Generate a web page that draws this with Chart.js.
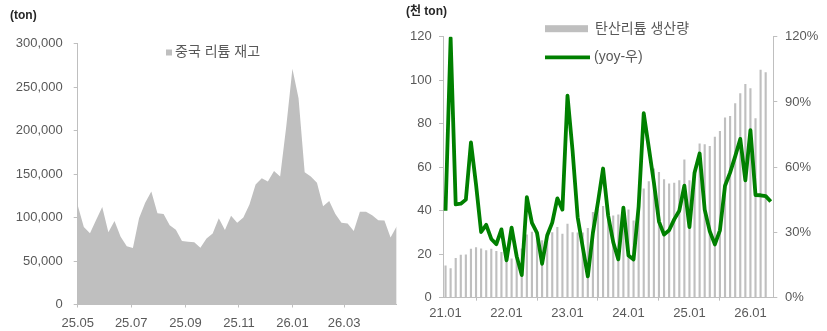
<!DOCTYPE html>
<html>
<head>
<meta charset="utf-8">
<script src="https://cdn.jsdelivr.net/npm/chart.js@4.4.1/dist/chart.umd.min.js"></script>
<style>
  html, body { margin: 0; padding: 0; background: #fff; }
  #wrap { position: relative; width: 827px; height: 331px; overflow: hidden;
          font-family: "Liberation Sans", "Noto Sans CJK KR", sans-serif; }
  .box { position: absolute; top: 0; height: 331px; }
  #boxL { left: 0; width: 410px; }
  #boxR { left: 400px; width: 427px; }
  .unit { position: absolute; font-size: 12px; line-height: 14px; font-weight: bold;
          color: #262626; white-space: nowrap; }
</style>
</head>
<body>
<div id="wrap">
  <div class="box" id="boxL"><canvas id="invChart" width="410" height="331"></canvas></div>
  <div class="box" id="boxR"><canvas id="prodChart" width="427" height="331"></canvas></div>
  <div class="unit" style="left:10px;top:8px">(ton)</div>
  <div class="unit" style="left:406px;top:4px">(천 ton)</div>
</div>
<script>
// ---- China lithium inventory (weekly, tons) ----
const invDates = [
  '25.05.01','25.05.08','25.05.15','25.05.22','25.05.29',
  '25.06.05','25.06.12','25.06.19','25.06.26',
  '25.07.03','25.07.10','25.07.17','25.07.24','25.07.31',
  '25.08.07','25.08.14','25.08.21','25.08.28',
  '25.09.04','25.09.11','25.09.18','25.09.25',
  '25.10.02','25.10.09','25.10.16','25.10.23','25.10.30',
  '25.11.06','25.11.13','25.11.20','25.11.27',
  '25.12.04','25.12.11','25.12.18','25.12.25',
  '26.01.01','26.01.08','26.01.15','26.01.22','26.01.29',
  '26.02.05','26.02.12','26.02.19','26.02.26',
  '26.03.05','26.03.12','26.03.19','26.03.26',
  '26.04.02','26.04.09','26.04.16','26.04.23','26.04.30'
];
const invTons = [
  114000, 89000, 82000, 97000, 112000, 83000, 96000, 78000, 67000, 65000,
  99000, 117000, 130000, 105000, 104000, 91000, 86000, 73000, 72000, 71500,
  65300, 76000, 81500, 99000, 85600, 102000, 94000, 100000, 115000, 138000,
  145000, 141500, 153500, 147000, 205000, 271000, 237000, 152000, 147000, 140000,
  113000, 119000, 104000, 94000, 93000, 84500, 106500, 106500, 102500, 96700,
  96500, 77000, 90000
];
const invTickMonths = ['25.05', '25.07', '25.09', '25.11', '26.01', '26.03'];

// ---- Lithium carbonate output (thousand tons) and YoY (%) ----
const prodMonths = [
  '21.01','21.02','21.03','21.04','21.05','21.06','21.07','21.08','21.09','21.10','21.11','21.12',
  '22.01','22.02','22.03','22.04','22.05','22.06','22.07','22.08','22.09','22.10','22.11','22.12',
  '23.01','23.02','23.03','23.04','23.05','23.06','23.07','23.08','23.09','23.10','23.11','23.12',
  '24.01','24.02','24.03','24.04','24.05','24.06','24.07','24.08','24.09','24.10','24.11','24.12',
  '25.01','25.02','25.03','25.04','25.05','25.06','25.07','25.08','25.09','25.10','25.11','25.12',
  '26.01','26.02','26.03','26.04','26.05'
];
const li2co3Output = [
  14.8, 13.5, 18.3, 19.7, 19.9, 22.5, 23.2, 22.6, 21.8, 22.5, 21.5, 21,
  18.3, 18, 20, 22.6, 29.1, 30.3, 30.5, 26.4, 29.1, 30.1, 32.5, 29.4,
  34, 30.1, 30, 30, 32, 39.4, 40.9, 42.2, 37.8, 37.8, 38.2, 41,
  40.6, 35.5, 44, 50.2, 53.5, 59.4, 57.8, 54.5, 52.5, 52.8, 54, 63.5,
  54, 55, 70.9, 70.5, 69.8, 74, 76.6, 82.8, 83.5, 89.4, 94, 98.3,
  96.3, 82.5, 104.8, 103.7
];
const outputYoY = [
  40, 119.4, 42.9, 43.2, 45.1, 71.4, 52, 30.2, 33.5, 27, 24.6, 31.4,
  17.2, 32.2, 19, 10.4, 46.2, 34.4, 29.8, 15.6, 28.6, 34.5, 45.7, 40.5,
  92.9, 67.5, 37, 23.2, 9.8, 29.8, 44, 59.4, 37.8, 25.5, 17.6, 41.4,
  19.4, 17.6, 42, 84.8, 69, 53, 35, 29, 31, 36, 40, 51.5,
  32.5, 57.5, 66.3, 40.5, 30.5, 24.5, 31, 51.5, 57.5, 65, 73, 54,
  77, 47.2, 47.1, 46.7, 44.2
];

Chart.defaults.font.family = '"Liberation Sans", "Noto Sans CJK KR", sans-serif';
Chart.defaults.font.size = 13;
Chart.defaults.color = '#595959';

const AXIS = '#bfbfbf';
const GRAY = '#bfbfbf';
const GREEN = '#008000';

// day number for 'YY.MM' or 'YY.MM.DD'
function dayOf(s) {
  const p = s.split('.').map(Number);
  return Date.UTC(2000 + p[0], p[1] - 1, p[2] || 1) / 86400000;
}
const day0 = dayOf(invDates[0]);

// Small legend drawn inside the plot, entries taken from the datasets
const legendBoxes = {
  id: 'legendBoxes',
  afterDatasetsDraw(chart, args, opts) {
    const ctx = chart.ctx;
    ctx.save();
    ctx.font = opts.font;
    ctx.textBaseline = 'middle';
    opts.items.forEach(it => {
      const ds = chart.data.datasets[it.dataset];
      if (it.kind === 'line') {
        ctx.strokeStyle = ds.borderColor;
        ctx.lineWidth = ds.borderWidth;
        ctx.beginPath();
        ctx.moveTo(it.x, it.y);
        ctx.lineTo(it.x + it.w, it.y);
        ctx.stroke();
      } else {
        ctx.fillStyle = ds.backgroundColor;
        ctx.fillRect(it.x, it.y - it.h / 2, it.w, it.h);
      }
      ctx.fillStyle = opts.color;
      ctx.fillText(ds.label, it.x + it.w + it.gap, it.y);
    });
    ctx.restore();
  }
};

const legendFont = '14px "Liberation Sans", "Noto Sans CJK KR", sans-serif';

// ---- Left: inventory area chart ----
new Chart(document.getElementById('invChart'), {
  type: 'line',
  data: {
    datasets: [{
      label: '중국 리튬 재고',
      data: invDates.map((d, i) => ({ x: dayOf(d) - day0, y: invTons[i] })),
      fill: 'origin',
      backgroundColor: GRAY,
      borderColor: 'rgba(0,0,0,0)',
      borderWidth: 1,
      pointRadius: 0,
      tension: 0
    }]
  },
  options: {
    responsive: false,
    animation: false,
    layout: { padding: { top: 43.5, right: 13.3, left: 0, bottom: 0 } },
    plugins: {
      legend: { display: false },
      tooltip: { enabled: false },
      legendBoxes: {
        font: legendFont, color: '#595959',
        items: [{ dataset: 0, kind: 'box', x: 166, y: 52.5, w: 6, h: 6, gap: 3 }]
      }
    },
    scales: {
      x: {
        type: 'linear',
        min: 0,
        max: dayOf(invDates[invDates.length - 1]) - day0,
        afterBuildTicks: s => { s.ticks = invTickMonths.map(m => ({ value: dayOf(m) - day0 })); },
        afterFit: s => { s.height = 26.5; },
        grid: { drawOnChartArea: false, drawTicks: true, tickLength: 3, color: AXIS },
        border: { color: AXIS },
        ticks: {
          autoSkip: false, maxRotation: 0, minRotation: 0, padding: 8,
          callback: (v, i) => invTickMonths[i]
        }
      },
      y: {
        min: 0, max: 300000,
        afterFit: s => { s.width = 77.7; },
        grid: { drawOnChartArea: false, drawTicks: true, tickLength: 4, color: AXIS },
        border: { color: AXIS },
        ticks: {
          stepSize: 50000, padding: 11,
          callback: v => v.toLocaleString('en-US')
        }
      }
    }
  },
  plugins: [legendBoxes]
});

// ---- Right: output bars + YoY line ----
new Chart(document.getElementById('prodChart'), {
  data: {
    labels: prodMonths,
    datasets: [
      {
        type: 'bar',
        label: '탄산리튬 생산량',
        data: li2co3Output,
        backgroundColor: GRAY,
        barPercentage: 0.42,
        categoryPercentage: 1,
        yAxisID: 'y',
        order: 2
      },
      {
        type: 'line',
        label: '(yoy-우)',
        data: outputYoY,
        borderColor: GREEN,
        backgroundColor: GREEN,
        borderWidth: 3.8,
        borderJoinStyle: 'round',
        pointRadius: 0,
        tension: 0,
        fill: false,
        yAxisID: 'y2',
        order: 1
      }
    ]
  },
  options: {
    responsive: false,
    animation: false,
    layout: { padding: { top: 36.7, right: 0, left: 0, bottom: 0 } },
    plugins: {
      legend: { display: false },
      tooltip: { enabled: false },
      legendBoxes: {
        font: legendFont, color: '#595959',
        items: [
          { dataset: 0, kind: 'box', x: 145, y: 28.7, w: 43, h: 7, gap: 7 },
          { dataset: 1, kind: 'line', x: 145, y: 57.3, w: 45, gap: 4 }
        ]
      }
    },
    scales: {
      x: {
        type: 'category',
        offset: true,
        afterFit: s => { s.height = 33.3; },
        grid: { offset: true, drawOnChartArea: false, drawTicks: true, tickLength: 3, color: AXIS },
        border: { color: AXIS },
        ticks: {
          autoSkip: false, maxRotation: 0, minRotation: 0, padding: 5,
          callback: (v, i) => (i % 12 === 0 ? prodMonths[i] : null)
        }
      },
      y: {
        position: 'left',
        min: 0, max: 120,
        afterFit: s => { s.width = 43; },
        grid: { drawOnChartArea: false, drawTicks: true, tickLength: 4, color: AXIS },
        border: { color: AXIS },
        ticks: { stepSize: 20, padding: 7.3 }
      },
      y2: {
        position: 'right',
        min: 0, max: 120,
        afterFit: s => { s.width = 53.7; },
        grid: { drawOnChartArea: false, drawTicks: true, tickLength: 4, color: AXIS },
        border: { color: AXIS },
        ticks: { stepSize: 30, padding: 7.7, callback: v => v + '%' }
      }
    }
  },
  plugins: [legendBoxes]
});
</script>
</body>
</html>
